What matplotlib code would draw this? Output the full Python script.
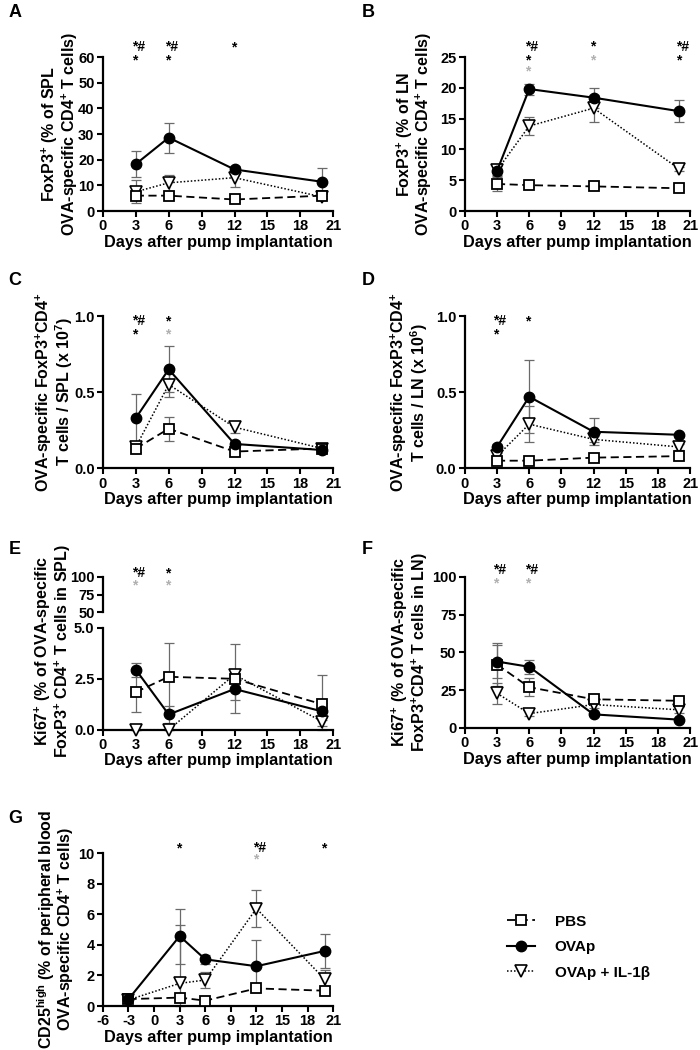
import matplotlib
matplotlib.use('Agg')
import matplotlib.pyplot as plt
from matplotlib.lines import Line2D
from matplotlib.ticker import FormatStrFormatter

plt.rcParams['font.family'] = ['Liberation Sans', 'DejaVu Sans']
plt.rcParams['font.weight'] = 'bold'
plt.rcParams['axes.labelweight'] = 'bold'
plt.rcParams['axes.unicode_minus'] = False
plt.rcParams['mathtext.fontset'] = 'custom'
plt.rcParams['mathtext.rm'] = 'Liberation Sans:bold'
plt.rcParams['mathtext.bf'] = 'Liberation Sans:bold'
plt.rcParams['mathtext.it'] = 'Liberation Sans:bold'
plt.rcParams['mathtext.default'] = 'bf'

# data (mean, sem)
days = [3, 6, 12, 20]
days_g = [-3, 3, 6, 12, 20]
groups = ['PBS', 'OVAp', 'OVAp + IL-1β']

a_pbs, a_pbs_err = [6.0, 6.0, 4.5, 6.0], [1.5, 1.2, 0.8, 1.0]
a_ova, a_ova_err = [18.3, 28.6, 16.2, 11.4], [5.2, 5.8, 1.5, 5.5]
a_il, a_il_err = [7.5, 11.0, 13.0, 5.5], [4.5, 3.0, 3.5, 1.0]

b_pbs, b_pbs_err = [4.4, 4.2, 4.0, 3.7], [1.1, 0.3, 0.3, 0.3]
b_ova, b_ova_err = [6.5, 19.8, 18.4, 16.2], [0.8, 0.9, 1.6, 1.8]
b_il, b_il_err = [6.6, 13.8, 16.7, 6.8], [0.8, 1.5, 2.2, 0.3]

c_pbs, c_pbs_err = [0.13, 0.26, 0.11, 0.13], [0.02, 0.08, 0.01, 0.02]
c_ova, c_ova_err = [0.33, 0.65, 0.16, 0.12], [0.16, 0.15, 0.02, 0.01]
c_il, c_il_err = [0.14, 0.55, 0.27, 0.13], [0.03, 0.08, 0.04, 0.02]

d_pbs, d_pbs_err = [0.05, 0.05, 0.07, 0.08], [0.01, 0.01, 0.01, 0.02]
d_ova, d_ova_err = [0.14, 0.47, 0.24, 0.22], [0.02, 0.24, 0.09, 0.01]
d_il, d_il_err = [0.08, 0.29, 0.19, 0.14], [0.02, 0.12, 0.02, 0.02]

e_pbs, e_pbs_err = [1.85, 2.6, 2.5, 1.25], [1.0, 1.65, 1.7, 1.45]
e_ova, e_ova_err = [2.95, 0.75, 2.0, 0.9], [0.35, 0.4, 0.55, 0.4]
e_il, e_il_err = [0.0, 0.0, 2.7, 0.4], [0.0, 0.0, 0.3, 0.2]

f_pbs, f_pbs_err = [42, 27, 19, 18], [14, 6, 2, 2]
f_ova, f_ova_err = [44, 40.5, 9, 5.5], [11, 4.5, 1, 1]
f_il, f_il_err = [23, 9.5, 15.5, 12], [7, 1.5, 2, 2]

g_pbs, g_pbs_err = [0.45, 0.55, 0.35, 1.15, 1.0], [0.05, 0.1, 0.1, 0.1, 0.1]
g_ova, g_ova_err = [0.45, 4.57, 3.05, 2.6, 3.6], [0.05, 1.8, 0.3, 1.7, 1.1]
g_il, g_il_err = [0.4, 1.48, 1.7, 6.37, 1.75], [0.05, 3.8, 0.5, 1.23, 0.6]

# significance marks: (day, y, text, black/grey)
a_marks = [(3, 63.8, '*#', 'k'), (3, 58.6, '*', 'k'), (6, 63.8, '*#', 'k'),
           (6, 58.6, '*', 'k'), (12, 63.8, '*', 'k')]
b_marks = [(6, 26.7, '*#', 'k'), (6, 24.4, '*', 'k'), (6, 22.6, '*', 'g'),
           (12, 26.7, '*', 'k'), (12, 24.4, '*', 'g'),
           (20, 26.7, '*#', 'k'), (20, 24.4, '*', 'k')]
c_marks = [(3, 0.967, '*#', 'k'), (3, 0.88, '*', 'k'),
           (6, 0.967, '*', 'k'), (6, 0.88, '*', 'g')]
d_marks = [(3, 0.967, '*#', 'k'), (3, 0.88, '*', 'k'), (6, 0.967, '*', 'k')]
e_marks = [(3, 105.7, '*#', 'k'), (3, 88.6, '*', 'g'),
           (6, 105.7, '*', 'k'), (6, 88.6, '*', 'g')]
f_marks = [(3, 104.6, '*#', 'k'), (3, 96, '*', 'g'),
           (6, 104.6, '*#', 'k'), (6, 96, '*', 'g')]
g_marks = [(3, 10.3, '*', 'k'), (12, 10.3, '*#', 'k'), (12, 9.55, '*', 'g'),
           (20, 10.3, '*', 'k')]

styles = [
    dict(ls=(0, (4.5, 2.5)), marker='s', mfc='white', ms=6.5, lw=1.3, mew=1.3),
    dict(ls='-', marker='o', mfc='black', ms=7.5, lw=1.5, mew=1.0),
    dict(ls=(0, (1, 1.3)), marker='v', mfc='white', ms=8, lw=1.1, mew=1.2),
]
zorders = [4, 5, 3]
MARK_COL = {'k': 'black', 'g': '#b0b0b0'}
TICK_FS = 10.5
LABEL_FS = 11.5


def style_axis(ax, ylim, yticks, xlim=(0, 21), fmt=None, xaxis=True):
    for s in ['top', 'right']:
        ax.spines[s].set_visible(False)
    ax.spines['left'].set_linewidth(1.6)
    ax.spines['bottom'].set_linewidth(1.6)
    ax.set_ylim(*ylim)
    ax.set_yticks(yticks)
    ax.set_xlim(*xlim)
    ax.tick_params(width=1.5, length=4, labelsize=TICK_FS, pad=2)
    if fmt:
        ax.yaxis.set_major_formatter(FormatStrFormatter(fmt))
    if xaxis:
        ax.set_xticks(range(int(xlim[0]), 22, 3))
        ax.set_xlabel('Days after pump implantation', fontsize=11.7, labelpad=1)
    else:
        ax.spines['bottom'].set_visible(False)
        ax.set_xticks([])


def draw_series(ax, x, series):
    for (y, err), st, z in zip(series, styles, zorders):
        low = [min(e, v) for e, v in zip(err, y)]
        ax.errorbar(x, y, yerr=[low, err], fmt='none', ecolor='#6a6a6a',
                    elinewidth=0.9, capsize=3.5, capthick=0.9, zorder=2,
                    clip_on=False)
        ax.plot(x, y, color='black', mec='black', zorder=z, clip_on=False, **st)


def draw_marks(ax, marks):
    for x, y, txt, c in marks:
        ax.annotate(txt, (x, y), xytext=(-2.8, 0), textcoords='offset points',
                    ha='left', va='center', fontsize=10, color=MARK_COL[c],
                    annotation_clip=False)


def ylabel(ax, text, xoff, ycen=0.5):
    ax.set_ylabel(text, fontsize=LABEL_FS, linespacing=0.95)
    ax.yaxis.set_label_coords(xoff, ycen)


fig = plt.figure(figsize=(7, 10.5), dpi=100)
W, WR = 0.329, 0.322
LX, RX = 0.147, 0.664

axA = fig.add_axes([LX, 0.799, W, 0.1467])
axB = fig.add_axes([RX, 0.799, WR, 0.1467])
axC = fig.add_axes([LX, 0.554, W, 0.145])
axD = fig.add_axes([RX, 0.554, WR, 0.145])
axE = fig.add_axes([LX, 0.305, W, 0.097])
axEt = fig.add_axes([LX, 0.4171, W, 0.0334])
axF = fig.add_axes([RX, 0.3067, WR, 0.1438])
axG = fig.add_axes([LX, 0.0419, W, 0.1457])

draw_series(axA, days, [(a_pbs, a_pbs_err), (a_ova, a_ova_err), (a_il, a_il_err)])
style_axis(axA, (0, 60), range(0, 61, 10))
draw_marks(axA, a_marks)
ylabel(axA, '$FoxP3^{+}$ (% of SPL\nOVA-specific $CD4^{+}$ T cells)', -0.1)

draw_series(axB, days, [(b_pbs, b_pbs_err), (b_ova, b_ova_err), (b_il, b_il_err)])
style_axis(axB, (0, 25), range(0, 26, 5))
draw_marks(axB, b_marks)
ylabel(axB, '$FoxP3^{+}$ (% of LN\nOVA-specific $CD4^{+}$ T cells)', -0.135)

draw_series(axC, days, [(c_pbs, c_pbs_err), (c_ova, c_ova_err), (c_il, c_il_err)])
style_axis(axC, (0, 1), [0, 0.5, 1.0], fmt='%.1f')
draw_marks(axC, c_marks)
ylabel(axC, 'OVA-specific $FoxP3^{+}CD4^{+}$\nT cells / SPL (x $10^{7}$)', -0.12)

draw_series(axD, days, [(d_pbs, d_pbs_err), (d_ova, d_ova_err), (d_il, d_il_err)])
style_axis(axD, (0, 1), [0, 0.5, 1.0], fmt='%.1f')
draw_marks(axD, d_marks)
ylabel(axD, 'OVA-specific $FoxP3^{+}CD4^{+}$\nT cells / LN (x $10^{6}$)', -0.155)

draw_series(axE, days, [(e_pbs, e_pbs_err), (e_ova, e_ova_err), (e_il, e_il_err)])
style_axis(axE, (0, 5), [0, 2.5, 5.0], fmt='%.1f')
style_axis(axEt, (50, 100), [50, 75, 100], xaxis=False)
draw_marks(axEt, e_marks)
ylabel(axE, '$Ki67^{+}$ (% of OVA-specific\n$FoxP3^{+}$ $CD4^{+}$ T cells in SPL)', -0.13, 0.77)

draw_series(axF, days, [(f_pbs, f_pbs_err), (f_ova, f_ova_err), (f_il, f_il_err)])
style_axis(axF, (0, 100), range(0, 101, 25))
draw_marks(axF, f_marks)
ylabel(axF, '$Ki67^{+}$ (% of OVA-specific\n$FoxP3^{+}CD4^{+}$ T cells in LN)', -0.155)

draw_series(axG, days_g, [(g_pbs, g_pbs_err), (g_ova, g_ova_err), (g_il, g_il_err)])
style_axis(axG, (0, 10), range(0, 11, 2), xlim=(-6, 21))
draw_marks(axG, g_marks)
ylabel(axG, '$CD25^{high}$ (% of peripheral blood\nOVA-specific $CD4^{+}$ T cells)', -0.115)

# panel letters
for letter, x, y in [('A', 0.012, 0.996), ('B', 0.517, 0.996), ('C', 0.012, 0.741),
                     ('D', 0.517, 0.741), ('E', 0.012, 0.485), ('F', 0.517, 0.485),
                     ('G', 0.012, 0.2286)]:
    fig.text(x, y, letter, fontsize=13, fontweight='bold', va='top')

handles = [Line2D([], [], color='black', mec='black', **st) for st in styles]
fig.legend(handles, groups, loc='upper left', bbox_to_anchor=(0.705, 0.142),
           frameon=False, fontsize=11, handlelength=1.8, labelspacing=0.75,
           handletextpad=1.3)

fig.savefig('out.png', dpi=100)
